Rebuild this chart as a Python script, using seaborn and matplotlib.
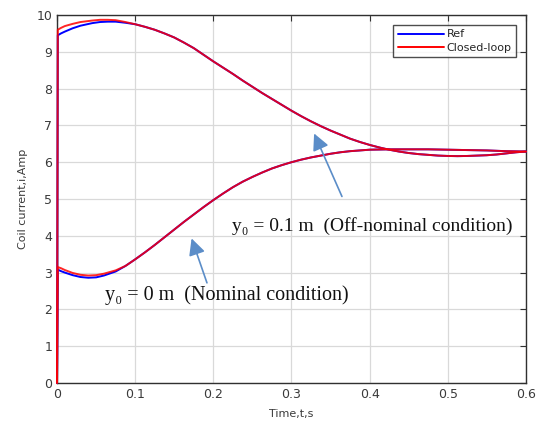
import numpy as np
import pandas as pd
import matplotlib
matplotlib.use("Agg")
import matplotlib.pyplot as plt
import seaborn as sns
from matplotlib.lines import Line2D

# ---- data ----
# upper trajectory (y0 = 0.1 m), start segment differs between Ref and Closed-loop
t_up_start = [0, 0.001, 0.005, 0.01, 0.02, 0.03, 0.045, 0.055, 0.065, 0.075, 0.0875]
ref_up_start = [0, 9.45, 9.50, 9.55, 9.64, 9.71, 9.78, 9.81, 9.82, 9.82, 9.79]
cl_up_start = [0, 9.60, 9.65, 9.70, 9.76, 9.81, 9.85, 9.87, 9.87, 9.86, 9.81]
t_up_rest = [0.1, 0.1125, 0.125, 0.1375, 0.15, 0.1625, 0.175, 0.1875, 0.2, 0.2125, 0.225,
             0.2375, 0.25, 0.2625, 0.275, 0.2875, 0.3, 0.3125, 0.325, 0.3375, 0.35, 0.3625,
             0.375, 0.3875, 0.4, 0.4125, 0.425, 0.4375, 0.45, 0.4625, 0.475, 0.4875, 0.5,
             0.5125, 0.525, 0.5375, 0.55, 0.5625, 0.575, 0.5875, 0.6]
up_rest = [9.75, 9.68, 9.60, 9.50, 9.39, 9.25, 9.10, 8.92, 8.74, 8.57, 8.40,
           8.22, 8.05, 7.88, 7.72, 7.56, 7.40, 7.25, 7.11, 6.98, 6.86, 6.75,
           6.64, 6.55, 6.47, 6.40, 6.34, 6.29, 6.25, 6.22, 6.20, 6.18, 6.17,
           6.165, 6.17, 6.18, 6.19, 6.21, 6.24, 6.27, 6.29]

# lower trajectory (y0 = 0 m)
t_lo_start = [0, 0.001, 0.005, 0.01, 0.02, 0.03, 0.04, 0.05, 0.06, 0.075]
ref_lo_start = [0, 3.08, 3.04, 3.00, 2.93, 2.88, 2.86, 2.87, 2.92, 3.03]
cl_lo_start = [0, 3.15, 3.12, 3.07, 2.99, 2.94, 2.92, 2.93, 2.97, 3.06]
t_lo_rest = [0.0875, 0.1, 0.1125, 0.125, 0.1375, 0.15, 0.1625, 0.175, 0.1875, 0.2, 0.2125,
             0.225, 0.2375, 0.25, 0.2625, 0.275, 0.2875, 0.3, 0.3125, 0.325, 0.3375, 0.35,
             0.3625, 0.375, 0.3875, 0.4, 0.425, 0.45, 0.475, 0.5, 0.525, 0.55, 0.575, 0.6]
lo_rest = [3.18, 3.36, 3.55, 3.75, 3.96, 4.17, 4.38, 4.58, 4.78, 4.97, 5.15,
           5.32, 5.47, 5.60, 5.72, 5.83, 5.92, 6.00, 6.07, 6.13, 6.18, 6.23,
           6.27, 6.30, 6.32, 6.34, 6.35, 6.35, 6.35, 6.34, 6.33, 6.32, 6.30, 6.29]

series_names = ["Ref", "Closed-loop"]
x_ticks = [0, 0.1, 0.2, 0.3, 0.4, 0.5, 0.6]
y_ticks = list(range(0, 11))

rows = []
def add(series, case, ts, vs):
    for ti, vi in zip(ts, vs):
        rows.append({"t": ti, "i": vi, "series": series, "case": case})

add("Ref", "up", t_up_start + t_up_rest, ref_up_start + up_rest)
add("Closed-loop", "up", t_up_start + t_up_rest, cl_up_start + up_rest)
add("Ref", "lo", t_lo_start + t_lo_rest, ref_lo_start + lo_rest)
add("Closed-loop", "lo", t_lo_start + t_lo_rest, cl_lo_start + lo_rest)
df = pd.DataFrame(rows)

sns.set_style("white")
plt.rcParams['font.family'] = ['DejaVu Sans']

fig = plt.figure(figsize=(5.39, 4.26), dpi=100)
ax = fig.add_axes([0.1058, 0.101, 0.870, 0.8637])

palette = {"Ref": "#0000ff", "Closed-loop": "#ff0000"}
sns.lineplot(data=df[df.series == "Ref"], x="t", y="i", units="case", estimator=None,
             color=palette["Ref"], lw=1.4, ax=ax, sort=False, zorder=3)
sns.lineplot(data=df[df.series == "Closed-loop"], x="t", y="i", units="case", estimator=None,
             color=palette["Closed-loop"], lw=1.4, ax=ax, sort=False, alpha=0.85, zorder=3)
for ln in ax.lines:
    ln.set_clip_on(False)

ax.set_xlim(0, 0.6)
ax.set_ylim(0, 10)
ax.set_xticks(x_ticks)
ax.set_xticklabels([f"{v:g}" for v in x_ticks])
ax.set_yticks(y_ticks)
ax.grid(True, color="#d9d9d9", lw=0.9)
for s in ax.spines.values():
    s.set_color("#303030")
    s.set_linewidth(1.0)
ax.tick_params(direction="in", top=True, right=True, length=4, width=0.8,
               labelsize=9, labelcolor="#3a3a3a", color="#303030")
ax.set_xlabel("Time,t,s", fontsize=8, color="#3a3a3a", labelpad=6)
ax.set_ylabel("Coil current,i,Amp", fontsize=8, color="#3a3a3a", labelpad=6)

handles = [Line2D([], [], color=palette[n], lw=1.4) for n in series_names]
leg = ax.legend(handles, series_names, loc="upper right", fontsize=8, frameon=True,
                fancybox=False, edgecolor="#202020", handlelength=4.2,
                borderaxespad=0.9, labelspacing=0.3, handletextpad=0.2)
leg.get_frame().set_linewidth(1.0)
leg.set_zorder(5)

arrow_col = "#5b8dc8"
serif = ["Liberation Serif", "DejaVu Serif"]
ax.text(0.2245, 4.27, "y\u2080 = 0.1 m  (Off-nominal condition)", fontsize=14,
        family=serif, color="#111111", va="center", ha="left")
ax.text(0.062, 2.38, "y\u2080 = 0 m  (Nominal condition)", fontsize=14.5,
        family=serif, color="#111111", va="center", ha="left")
ax.annotate("", xy=(0.3275, 6.85), xytext=(0.366, 5.0),
            arrowprops=dict(arrowstyle="-|>,head_length=1.0,head_width=0.5",
                            color=arrow_col, lw=1.2))
ax.annotate("", xy=(0.171, 4.0), xytext=(0.193, 2.65),
            arrowprops=dict(arrowstyle="-|>,head_length=1.0,head_width=0.5",
                            color=arrow_col, lw=1.2))

fig.savefig("out.png", dpi=100)
